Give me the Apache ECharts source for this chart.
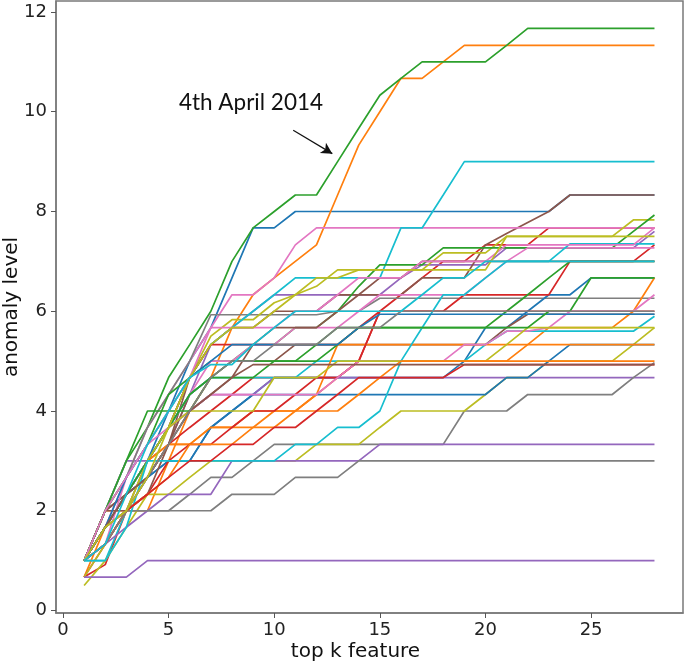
<!DOCTYPE html>
<html>
<head>
<meta charset="utf-8">
<script src="https://cdn.jsdelivr.net/npm/echarts@6/dist/echarts.min.js"></script>
<style>
  html, body { margin: 0; padding: 0; background: #fff; }
  #chart { width: 685px; height: 664px; }
</style>
</head>
<body>
<div id="chart"></div>
<script>
// ---- data ----
const kValues = [1,2,3,4,5,6,7,8,9,10,11,12,13,14,15,16,17,18,19,20,21,22,23,24,25,26,27,28];
const xTicks = [0, 5, 10, 15, 20, 25];
const yTicks = [0, 2, 4, 6, 8, 10, 12];

const blue1 = [1.0,1.67,2.33,3.0,4.0,5.0,5.67,6.67,7.67,7.67,8.0,8.0,8.0,8.0,8.0,8.0,8.0,8.0,8.0,8.0,8.0,8.0,8.0,8.33,8.33,8.33,8.33,8.33];
const orange1 = [1.0,2.0,2.0,2.0,3.0,4.0,4.67,5.67,6.33,6.67,7.0,7.33,8.33,9.33,10.0,10.67,10.67,11.0,11.33,11.33,11.33,11.33,11.33,11.33,11.33,11.33,11.33,11.33];
const green1 = [1.0,2.0,3.0,3.67,4.67,5.33,6.0,7.0,7.67,8.0,8.33,8.33,9.0,9.67,10.33,10.67,11.0,11.0,11.0,11.0,11.33,11.67,11.67,11.67,11.67,11.67,11.67,11.67];
const red1 = [0.67,0.92,2.0,2.67,3.33,3.67,4.0,4.33,4.67,4.67,4.67,4.67,4.67,5.0,6.0,6.33,6.67,7.0,7.0,7.33,7.33,7.33,7.67,7.67,7.67,7.67,7.67,7.67];
const purple1 = [1.0,2.0,3.0,3.0,3.33,4.33,5.33,5.67,6.0,6.33,6.33,6.33,6.33,6.33,6.33,6.67,6.93,6.93,6.93,6.93,7.27,7.27,7.27,7.27,7.27,7.27,7.27,7.6];
const brown1 = [1.0,2.0,2.33,2.67,3.33,4.67,5.33,5.67,5.67,6.0,6.0,6.0,6.33,6.33,6.33,6.33,6.67,6.67,6.67,7.33,7.56,7.78,8.0,8.33,8.33,8.33,8.33,8.33];
const pink1 = [1.0,1.67,2.67,3.67,4.33,5.0,5.67,6.33,6.33,6.67,7.33,7.67,7.67,7.67,7.67,7.67,7.67,7.67,7.67,7.67,7.67,7.67,7.67,7.67,7.67,7.67,7.67,7.67];
const gray1 = [1.0,2.0,2.67,3.67,4.33,5.0,5.93,5.93,5.93,5.93,5.93,5.93,6.0,6.0,6.26,6.26,6.26,6.26,6.26,6.26,6.26,6.26,6.26,6.26,6.26,6.26,6.26,6.26];
const olive1 = [1.0,1.67,2.33,3.0,3.67,4.67,5.5,5.83,5.83,6.17,6.33,6.5,6.83,6.83,6.83,6.83,6.83,7.17,7.17,7.17,7.5,7.5,7.5,7.5,7.5,7.5,7.83,7.83];
const cyan1 = [1.0,1.0,2.0,3.0,3.67,4.67,5.33,5.67,6.0,6.33,6.67,6.67,6.67,6.67,6.67,7.67,7.67,8.33,9.0,9.0,9.0,9.0,9.0,9.0,9.0,9.0,9.0,9.0];

const blue2 = [1.0,1.33,2.0,2.67,3.0,3.0,3.67,4.0,4.33,4.67,4.67,4.67,4.67,4.67,4.67,4.67,4.67,4.67,5.0,5.67,5.67,6.0,6.33,6.33,6.67,6.67,6.67,6.67];
const orange2 = [0.67,1.67,2.33,3.0,3.33,3.33,3.67,3.67,4.0,4.0,4.0,4.33,4.67,5.0,5.0,5.0,5.0,5.0,5.0,5.0,5.0,5.33,5.67,5.67,5.67,5.67,6.0,6.67];
const green2 = [1.0,2.0,2.67,3.33,4.33,4.67,5.0,5.0,5.33,5.33,5.67,5.67,6.0,6.5,6.93,6.93,6.93,7.27,7.27,7.27,7.27,7.27,7.27,7.27,7.27,7.27,7.6,7.93];
const red2 = [1.0,1.67,2.33,3.0,3.67,4.67,5.33,5.33,5.33,5.33,5.33,5.33,5.33,5.67,6.0,6.0,6.0,6.0,6.33,6.33,6.33,6.33,6.33,7.0,7.0,7.0,7.0,7.33];
const purple2 = [1.0,1.67,2.33,3.0,3.67,4.0,4.33,4.33,4.33,4.67,4.67,4.67,4.67,4.67,4.67,4.67,4.67,4.67,4.67,4.67,4.67,4.67,4.67,4.67,4.67,4.67,4.67,4.67];
const brown2 = [1.0,2.0,2.33,2.67,3.33,4.33,4.67,5.0,5.0,5.0,5.33,5.33,5.33,5.33,5.33,5.33,5.33,5.33,5.33,5.33,5.67,5.94,5.94,5.94,5.94,5.94,5.94,5.94];
const pink2 = [1.0,1.67,2.33,3.0,3.67,4.33,5.0,5.0,5.33,5.33,5.67,5.67,5.67,6.0,6.33,6.33,6.33,6.33,6.33,6.67,7.0,7.27,7.27,7.27,7.27,7.27,7.27,7.27];
const gray2 = [1.0,1.67,2.0,2.0,2.0,2.33,2.67,2.67,3.0,3.33,3.33,3.33,3.33,3.33,3.33,3.33,3.33,3.33,4.0,4.0,4.0,4.33,4.33,4.33,4.33,4.33,4.67,4.97];
const olive2 = [0.5,1.0,1.67,2.33,2.33,2.67,3.0,3.0,3.0,3.0,3.0,3.33,3.33,3.33,3.67,4.0,4.0,4.0,4.0,4.33,4.67,4.67,5.0,5.0,5.0,5.0,5.33,5.67];
const cyan2 = [1.0,1.67,2.33,3.0,3.67,4.33,4.67,4.67,4.67,4.67,4.67,5.0,5.0,5.0,5.0,5.0,5.0,5.0,5.0,5.33,5.6,5.6,5.6,5.6,5.6,5.6,5.6,5.9];

const blue3 = [1.0,1.67,2.33,2.67,3.0,3.0,3.67,4.0,4.33,4.33,4.33,4.33,4.33,4.33,4.33,4.33,4.33,4.33,4.33,4.33,4.67,4.67,5.0,5.33,5.33,5.33,5.33,5.33];
const orange3 = [1.0,1.67,2.0,3.0,3.33,3.33,3.67,3.67,3.67,4.0,4.0,4.33,5.33,5.33,5.33,5.33,5.33,5.33,5.33,5.33,5.33,5.33,5.33,5.33,5.33,5.33,5.33,5.33];
const green3 = [1.0,1.67,2.33,3.0,3.67,4.33,4.67,4.67,4.67,5.0,5.0,5.0,5.33,5.67,5.67,5.67,5.67,5.67,5.67,5.67,6.0,6.33,6.67,7.0,7.0,7.0,7.0,7.0];
const red3 = [0.67,1.33,2.0,2.33,3.0,3.33,3.33,3.67,4.0,4.0,4.33,4.67,4.67,5.0,6.0,6.0,6.0,6.0,6.0,6.0,6.0,6.0,6.0,6.0,6.0,6.0,6.0,6.0];
const purple3 = [1.0,1.33,1.67,2.0,2.33,2.33,2.33,3.0,3.0,3.0,3.0,3.0,3.0,3.0,3.33,3.33,3.33,3.33,3.33,3.33,3.33,3.33,3.33,3.33,3.33,3.33,3.33,3.33];
const brown3 = [1.0,2.0,2.0,2.33,3.33,4.0,4.33,4.67,5.33,5.67,5.67,5.67,6.0,6.33,6.67,6.67,7.0,7.0,7.0,7.0,7.0,7.0,7.0,7.0,7.0,7.0,7.0,7.0];
const pink3 = [1.0,1.33,2.67,3.33,3.67,4.0,4.33,4.33,4.33,4.33,4.33,4.33,4.67,5.0,5.0,5.0,5.0,5.0,5.33,5.33,5.6,5.6,5.67,6.0,6.0,6.0,6.0,6.33];
const gray3 = [1.0,1.67,2.0,2.0,2.0,2.0,2.0,2.33,2.33,2.33,2.67,2.67,2.67,3.0,3.0,3.0,3.0,3.0,3.0,3.0,3.0,3.0,3.0,3.0,3.0,3.0,3.0,3.0];
const olive3 = [0.67,1.33,2.0,3.0,3.67,4.0,4.0,4.0,4.0,4.67,4.67,4.67,5.0,5.0,5.0,5.0,5.0,5.0,5.0,5.0,5.33,5.67,5.67,5.67,5.67,5.67,5.67,5.67];
const cyan3 = [1.0,1.0,1.67,3.0,3.0,3.0,3.0,3.0,3.0,3.0,3.33,3.33,3.67,3.67,4.0,5.0,5.67,6.33,6.33,6.67,7.0,7.0,7.0,7.35,7.35,7.35,7.35,7.35];

const blue4 = [1.0,1.67,2.67,3.33,4.0,4.67,5.0,5.33,5.33,5.33,5.33,5.33,5.33,5.67,5.94,5.94,5.94,5.94,5.94,5.94,5.94,5.94,5.94,5.94,5.94,5.94,5.94,5.94];
const orange4 = [1.0,1.33,2.0,2.33,2.67,3.33,3.33,3.33,3.67,3.67,4.0,4.0,4.0,4.33,4.67,5.0,5.0,5.0,5.0,5.0,5.0,5.0,5.0,5.0,5.0,5.0,5.0,5.0];
const green4 = [1.0,2.0,3.0,4.0,4.0,4.0,4.67,5.0,5.0,5.0,5.0,5.33,5.67,5.67,5.67,5.67,5.67,5.67,5.67,5.67,5.67,5.67,6.0,6.0,6.67,6.67,6.67,6.67];
const red4 = [1.0,1.33,2.0,2.33,2.67,3.0,3.0,3.33,3.33,3.67,3.67,4.0,4.33,4.67,4.67,4.67,4.67,4.67,4.93,4.93,4.93,4.93,4.93,4.93,4.93,4.93,4.93,4.93];
const purple4 = [0.67,0.67,0.67,1.0,1.0,1.0,1.0,1.0,1.0,1.0,1.0,1.0,1.0,1.0,1.0,1.0,1.0,1.0,1.0,1.0,1.0,1.0,1.0,1.0,1.0,1.0,1.0,1.0];
const brown4 = [1.0,1.67,2.33,2.67,3.33,4.0,4.33,4.67,4.93,4.93,4.93,4.93,4.93,4.93,4.93,4.93,4.93,4.93,4.93,4.93,4.93,4.93,4.93,4.93,4.93,4.93,4.93,4.93];
const pink4 = [1.0,2.0,2.67,3.33,4.0,4.67,5.67,5.67,5.67,5.67,6.0,6.0,6.33,6.67,6.67,6.67,7.0,7.0,7.0,7.0,7.33,7.33,7.33,7.33,7.33,7.33,7.33,7.67];
const gray4 = [1.0,1.33,2.0,2.67,3.33,4.0,4.67,5.0,5.0,5.33,5.33,5.33,5.67,5.67,5.67,6.0,6.0,6.0,6.0,6.0,6.0,6.0,6.0,6.0,6.0,6.0,6.0,6.0];
const olive4 = [1.0,1.67,2.0,2.67,3.67,4.67,5.33,5.67,5.67,6.0,6.33,6.67,6.67,6.83,6.83,6.83,6.83,6.83,6.83,6.83,7.5,7.5,7.5,7.5,7.5,7.5,7.5,7.5];
const cyan4 = [1.0,1.33,2.33,3.33,4.0,4.67,4.93,4.93,5.33,5.67,6.0,6.0,6.0,6.0,6.0,6.0,6.33,6.67,6.67,7.0,7.0,7.0,7.0,7.0,7.0,7.0,7.0,7.0];

const annotationText = '4th April 2014';
const annotationLabelAt = [8.9, 10.17];
const arrowFrom = [10.9, 9.63];
const arrowTo = [12.75, 9.16];

// ---- styling ----
const palette = ['#1f77b4','#ff7f0e','#2ca02c','#d62728','#9467bd','#8c564b','#e377c2','#7f7f7f','#bcbd22','#17becf'];
const lineGroups = [
  [blue1, orange1, green1, red1, purple1, brown1, pink1, gray1, olive1, cyan1],
  [blue2, orange2, green2, red2, purple2, brown2, pink2, gray2, olive2, cyan2],
  [blue3, orange3, green3, red3, purple3, brown3, pink3, gray3, olive3, cyan3],
  [blue4, orange4, green4, red4, purple4, brown4, pink4, gray4, olive4, cyan4]
];

const series = [];
lineGroups.forEach((group, g) => {
  group.forEach((vals, c) => {
    series.push({
      type: 'line',
      name: 'line' + g + '_' + c,
      data: kValues.map((k, i) => [k, vals[i]]),
      showSymbol: false,
      symbol: 'none',
      lineStyle: { color: palette[c], width: 1.7 },
      itemStyle: { color: palette[c] },
      silent: true,
      z: 2
    });
  });
});

series.push({
  type: 'line',
  name: 'annotation',
  data: [],
  silent: true,
  z: 5,
  markLine: {
    silent: true,
    symbol: ['none', 'arrow'],
    symbolSize: [9, 11],
    label: { show: false },
    lineStyle: { color: '#111', width: 1.2, type: 'solid' },
    data: [[{ coord: arrowFrom }, { coord: arrowTo }]]
  },
  markPoint: {
    silent: true,
    symbol: 'rect',
    symbolSize: 1,
    itemStyle: { color: 'rgba(0,0,0,0)' },
    label: {
      show: true,
      position: 'inside',
      formatter: annotationText,
      color: '#111',
      fontSize: 22.5,
      fontFamily: 'Lato, "Open Sans", sans-serif'
    },
    data: [{ coord: annotationLabelAt }]
  }
});

const chart = echarts.init(document.getElementById('chart'), null, { renderer: 'canvas' });
chart.setOption({
  animation: false,
  backgroundColor: '#ffffff',
  grid: {
    left: 56, right: 2, top: 1, bottom: 51,
    containLabel: false,
    outerBoundsMode: 'none',
    show: true, borderColor: '#7a7a7a', borderWidth: 1.5, backgroundColor: 'transparent'
  },
  xAxis: {
    type: 'value',
    min: -0.33,
    max: 29.35,
    name: 'top k feature',
    nameLocation: 'middle',
    nameGap: 29,
    nameMoveOverlap: false,
    nameTextStyle: { fontSize: 20, color: '#111', fontFamily: '"DejaVu Sans", sans-serif', padding: [0, 28, 0, 0] },
    axisLine: { show: true, onZero: false, lineStyle: { color: '#7a7a7a', width: 1.5 } },
    axisTick: { show: true, length: 5, customValues: xTicks, lineStyle: { color: '#555', width: 1 } },
    axisLabel: { customValues: xTicks, fontSize: 18, color: '#222', margin: 8, fontFamily: '"DejaVu Sans", sans-serif' },
    splitLine: { show: false }
  },
  yAxis: {
    type: 'value',
    min: -0.05,
    max: 12.22,
    name: 'anomaly level',
    nameLocation: 'middle',
    nameGap: 34,
    nameMoveOverlap: false,
    nameRotate: 90,
    nameTextStyle: { fontSize: 20, color: '#111', fontFamily: '"DejaVu Sans", sans-serif' },
    axisLine: { show: true, onZero: false, lineStyle: { color: '#7a7a7a', width: 1.5 } },
    axisTick: { show: true, length: 5, customValues: yTicks, lineStyle: { color: '#555', width: 1 } },
    axisLabel: { customValues: yTicks, fontSize: 18, color: '#222', margin: 9, fontFamily: '"DejaVu Sans", sans-serif' },
    splitLine: { show: false }
  },
  series: series
});
</script>
</body>
</html>
